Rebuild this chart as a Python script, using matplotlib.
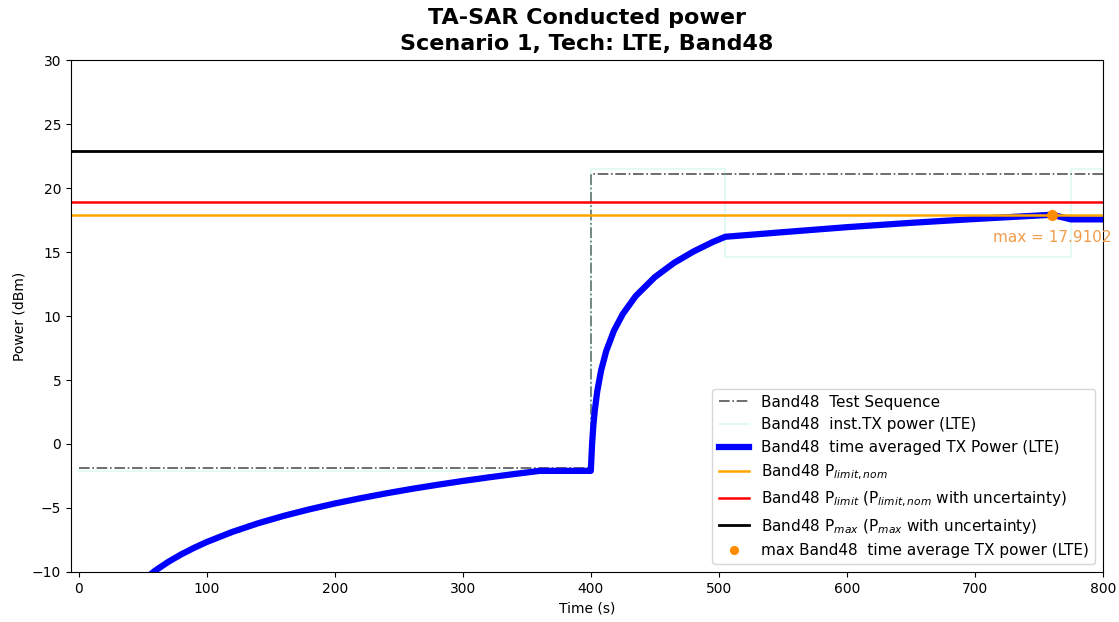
import matplotlib
matplotlib.use("Agg")
import matplotlib.pyplot as plt

# Test sequence requested power (dBm), step changes at the given times (s)
seq_time = [0, 400, 800]
seq_power = [-1.9, 21.1, 21.1]

# Instantaneous TX power (dBm), step changes at the given times (s)
inst_time = [0, 400, 505, 775, 800]
inst_power = [-2.1, 21.5, 14.6, 21.5, 21.5]

# Time averaged TX power (dBm)
avg_time = [50, 60, 70, 80, 90, 100, 120, 140, 160, 180, 200, 220, 240, 260,
            280, 300, 320, 340, 360, 400, 401, 402, 403, 405, 408, 412, 418,
            425, 435, 450, 465, 480, 495, 505, 550, 600, 650, 700, 760, 775, 800]
avg_power = [-10.67, -9.88, -9.21, -8.63, -8.12, -7.66, -6.87, -6.20, -5.62,
             -5.11, -4.65, -4.24, -3.86, -3.51, -3.19, -2.89, -2.61, -2.35,
             -2.10, -2.10, 0.03, 1.46, 2.53, 4.10, 5.73, 7.25, 8.84, 10.16,
             11.55, 13.04, 14.15, 15.03, 15.77, 16.19, 16.55, 16.94, 17.28,
             17.58, 17.9102, 17.55, 17.55]

# Limits (dBm)
p_limit_nom = 17.9
p_limit = 18.9
p_max = 22.9

# Maximum of the time averaged power
max_time = 760
max_power = 17.9102

band = "Band48"

fig = plt.figure(figsize=(11.19, 6.22), dpi=100)
ax = fig.add_axes([0.0634, 0.0804, 0.9223, 0.8231])

ax.plot(seq_time, seq_power, color="#555555", linestyle="-.", lw=1.2,
        drawstyle="steps-post", label=f"{band}  Test Sequence")
ax.plot(inst_time, inst_power, color="#7fe5d0", alpha=0.22, lw=1.5,
        drawstyle="steps-post", label=f"{band}  inst.TX power (LTE)")
ax.plot(avg_time, avg_power, color="blue", lw=4.5,
        label=f"{band}  time averaged TX Power (LTE)")
ax.axhline(p_limit_nom, color="orange", lw=1.8,
           label=f"{band} P$_{{limit,nom}}$")
ax.axhline(p_limit, color="red", lw=1.8,
           label=f"{band} P$_{{limit}}$ (P$_{{limit,nom}}$ with uncertainty)")
ax.axhline(p_max, color="black", lw=2,
           label=f"{band} P$_{{max}}$ (P$_{{max}}$ with uncertainty)")
ax.plot([max_time], [max_power], "o", color="darkorange", markersize=7,
        linestyle="none",
        label=f"max {band}  time average TX power (LTE)")
ax.text(max_time, max_power - 1.8, f"max = {max_power}", color="#f39c4a",
        ha="center", va="center", fontsize=11, clip_on=False)

ax.set_xlim(-6, 800)
ax.set_ylim(-10, 30)
ax.set_xlabel("Time (s)", fontsize=10)
ax.set_ylabel("Power (dBm)", fontsize=10)
ax.set_title("TA-SAR Conducted power\nScenario 1, Tech: LTE, Band48",
             fontsize=16, fontweight="bold", pad=7, linespacing=1.4)
leg = ax.legend(loc="lower right", fontsize=11, markerscale=0.8)

fig.savefig("out.png", dpi=100)
